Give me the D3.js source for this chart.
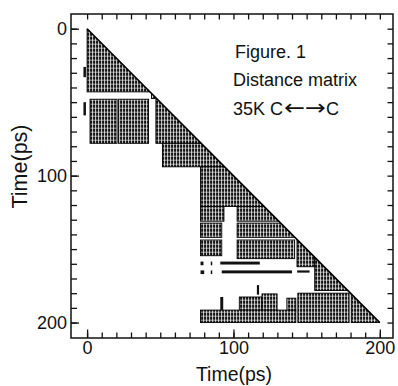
<!DOCTYPE html>
<html><head><meta charset="utf-8">
<script src="https://cdn.jsdelivr.net/npm/d3@7"></script>
<style>
body{margin:0;background:#fff}
svg{display:block}
text{font-family:"Liberation Sans",Arial,sans-serif;fill:#111}
</style>
</head><body>
<svg id="chart" width="398" height="386"></svg>
<script>
// ---- data (time in ps) ----
const xTickValues = [0, 100, 200];
const yTickValues = [0, 100, 200];
const minorTickValues = d3.range(0, 201, 10);
// contact regions of the distance matrix: [x0, x1, y0, y1] in ps
const contactBlocks = [
  [0, 43, 0, 43],
  [44, 46.5, 44.5, 47.5],
  [2, 20.5, 48, 78],
  [21.5, 42, 48, 78],
  [47, 200, 47.7, 78],
  [51.5, 200, 78, 94],
  [77.5, 200, 94, 121],
  [77.5, 93.5, 121, 131],
  [102.5, 200, 121, 131],
  [77.5, 92, 132.3, 142],
  [102.5, 200, 132.3, 142],
  [77.5, 92, 143.8, 154.5],
  [102.5, 141.8, 143.8, 156.5],
  [143.4, 155.5, 142.6, 162],
  [155.5, 200, 142.6, 178.2],
  [104, 119.5, 182.6, 192],
  [119.5, 129.8, 180.5, 192],
  [136.5, 142.6, 183.4, 192],
  [77.5, 142.6, 191.5, 200],
  [144, 179, 180, 200],
  [180.5, 200, 180, 200]
];
// isolated small contact marks: [x0, x1, y0, y1] in ps
const contactMarks = [
  [-2.5, -0.8, 26, 33],
  [-2.5, -0.8, 50, 59],
  [77.5, 79.5, 158.5, 161],
  [84.5, 85.5, 158.5, 161],
  [91, 118, 158.5, 160.5],
  [77.5, 80, 164.5, 167],
  [84.5, 85.5, 164.5, 167],
  [92, 140, 164.5, 166.5],
  [143.5, 152, 164.5, 166],
  [116, 117.5, 174.5, 181],
  [91, 93, 182.6, 191.5]
];
const annotationLines = ["Figure. 1", "Distance matrix"];
const atomLabel = ["35K C", "\u2190\u2192", "C"];
const axisTitle = "Time(ps)";

// ---- drawing ----
const svg = d3.select("#chart");
const x = d3.scaleLinear().domain([-11, 209]).range([71, 393]);
const y = d3.scaleLinear().domain([-10, 210.5]).range([14, 338]);

const defs = svg.append("defs");
const pat = defs.append("pattern").attr("id", "hatch")
  .attr("patternUnits", "userSpaceOnUse").attr("width", 3).attr("height", 4)
  .attr("x", x(0)).attr("y", y(0));
pat.append("rect").attr("width", 3).attr("height", 4).attr("fill", "#111");
pat.append("rect").attr("x", 2).attr("width", 1).attr("height", 4).attr("fill", "#fff").attr("opacity", 0.8);
pat.append("rect").attr("y", 3).attr("width", 3).attr("height", 1).attr("fill", "#fff").attr("opacity", 0.6);

defs.append("clipPath").attr("id", "tri").append("path")
  .attr("d", d3.line()([[x(-3), y(-3)], [x(201), y(201)], [x(-3), y(201)]]) + "Z");

const gBlocks = svg.append("g").attr("clip-path", "url(#tri)");
gBlocks.selectAll("rect").data(contactBlocks).join("rect")
  .attr("x", d => x(d[0])).attr("y", d => y(d[2]))
  .attr("width", d => x(d[1]) - x(d[0])).attr("height", d => y(d[3]) - y(d[2]))
  .attr("fill", "url(#hatch)").attr("stroke", "#000").attr("stroke-width", 0.9);

svg.append("g").selectAll("rect").data(contactMarks).join("rect")
  .attr("x", d => x(d[0])).attr("y", d => y(d[2]))
  .attr("width", d => x(d[1]) - x(d[0])).attr("height", d => y(d[3]) - y(d[2]))
  .attr("fill", "#111");

// diagonal
svg.append("line")
  .attr("x1", x(0)).attr("y1", y(0)).attr("x2", x(200)).attr("y2", y(200))
  .attr("stroke", "#000").attr("stroke-width", 1.6);

// frame
svg.append("rect").attr("x", x(-11)).attr("y", y(-10))
  .attr("width", x(209) - x(-11)).attr("height", y(210.5) - y(-10))
  .attr("fill", "none").attr("stroke", "#111").attr("stroke-width", 1.5);

function styleAxis(g) {
  g.select(".domain").remove();
  g.selectAll("line").attr("stroke", "#111").attr("stroke-width", 1.3);
  g.selectAll("text").attr("font-size", 18).attr("fill", "#111")
    .attr("font-family", '"Liberation Sans",Arial,sans-serif');
}
// minor ticks
svg.append("g").attr("transform", `translate(${x(-11)},0)`)
  .call(d3.axisLeft(y).tickValues(minorTickValues).tickSize(-6).tickFormat("")).call(styleAxis);
svg.append("g").attr("transform", `translate(0,${y(210.5)})`)
  .call(d3.axisBottom(x).tickValues(minorTickValues).tickSize(-5.5).tickFormat("")).call(styleAxis);
svg.append("g").attr("transform", `translate(0,${y(-10)})`)
  .call(d3.axisTop(x).tickValues(minorTickValues).tickSize(-5.5).tickFormat("")).call(styleAxis);
svg.append("g").attr("transform", `translate(${x(209)},0)`)
  .call(d3.axisRight(y).tickValues(minorTickValues).tickSize(-5.5).tickFormat("")).call(styleAxis);
// major ticks with labels
svg.append("g").attr("transform", `translate(${x(-11)},0)`)
  .call(d3.axisLeft(y).tickValues(yTickValues).tickSize(-8).tickPadding(4).tickFormat(d3.format("d"))).call(styleAxis);
svg.append("g").attr("transform", `translate(0,${y(210.5)})`)
  .call(d3.axisBottom(x).tickValues(xTickValues).tickSize(-8.5).tickPadding(3).tickFormat(d3.format("d"))).call(styleAxis);

// axis titles
svg.append("text").attr("x", 234).attr("y", 381).attr("text-anchor", "middle")
  .attr("font-size", 19.5).text(axisTitle);
svg.append("text").attr("transform", "translate(27,166.5) rotate(-90)").attr("text-anchor", "middle")
  .attr("font-size", 21.5).text(axisTitle);

// annotation
const annX = [235, 233], annY = [58, 86];
svg.append("g").selectAll("text").data(annotationLines).join("text")
  .attr("x", (d, i) => annX[i]).attr("y", (d, i) => annY[i])
  .attr("font-size", 18).text(d => d);
const t3 = svg.append("text").attr("x", 233).attr("y", 115).attr("font-size", 18);
t3.append("tspan").text(atomLabel[0]);
t3.append("tspan").attr("font-family", '"DejaVu Sans",sans-serif').attr("font-size", 22)
  .attr("dx", 1).attr("textLength", 42).attr("lengthAdjust", "spacingAndGlyphs").text(atomLabel[1]);
t3.append("tspan").text(atomLabel[2]);
</script>
</body></html>
